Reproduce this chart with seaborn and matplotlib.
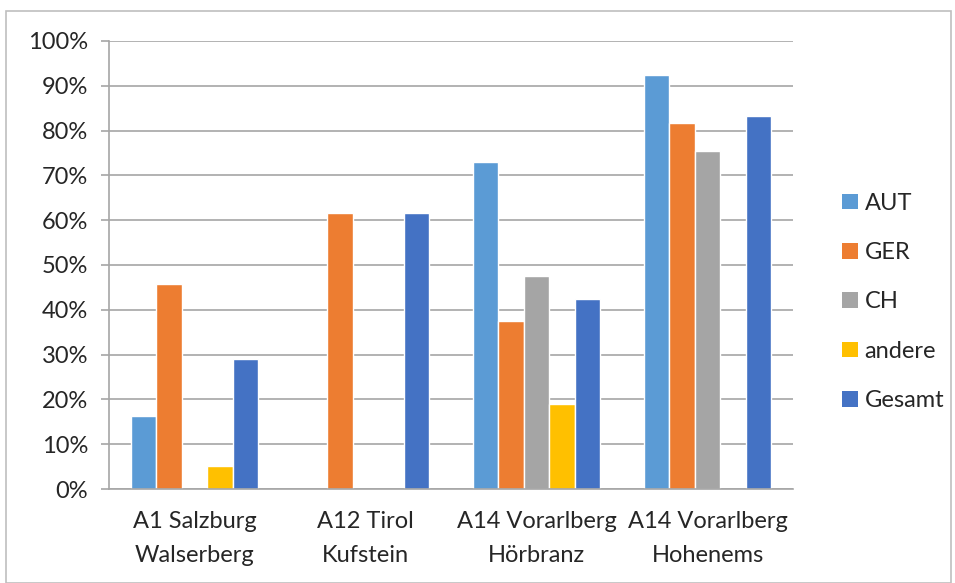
import numpy as np
import pandas as pd
import matplotlib
matplotlib.use("Agg")
import matplotlib.pyplot as plt
import seaborn as sns
from matplotlib.patches import Rectangle, Patch
from matplotlib.ticker import FixedLocator, PercentFormatter

categories = ["A1 Salzburg\nWalserberg", "A12 Tirol\nKufstein",
              "A14 Vorarlberg\nHörbranz", "A14 Vorarlberg\nHohenems"]
series = ["AUT", "GER", "CH", "andere", "Gesamt"]
aut = [16.4, np.nan, 73.1, 92.3]
ger = [45.7, 61.5, 37.4, 81.8]
ch = [np.nan, np.nan, 47.6, 75.4]
andere = [5.2, np.nan, 19.0, np.nan]
gesamt = [29.0, 61.5, 42.3, 83.2]
colors = ["#5B9BD5", "#ED7D31", "#A5A5A5", "#FFC000", "#4472C4"]
yticks = [0, 10, 20, 30, 40, 50, 60, 70, 80, 90, 100]

values = {"AUT": aut, "GER": ger, "CH": ch, "andere": andere, "Gesamt": gesamt}
rows = []
for s in series:
    for c, v in zip(categories, values[s]):
        rows.append({"Ort": c, "Gruppe": s, "Wert": v})
df = pd.DataFrame(rows)

sns.set_style("white")
plt.rcParams["font.family"] = ["Lato", "DejaVu Sans"]
FS = 17

fig = plt.figure(figsize=(9.55, 5.83), dpi=100)
ax = fig.add_axes([109/955, 1-489/583, (793-109)/955, (489-41)/583])

sns.barplot(data=df, x="Ort", y="Wert", hue="Gruppe", order=categories,
            hue_order=series, palette=colors, width=0.745, gap=0,
            saturation=1, ax=ax, legend=False, errorbar=None)

ax.set_xlim(-0.5, 3.5)
ax.set_ylim(0, 100)
ax.set_yticks(yticks)
ax.yaxis.set_major_formatter(PercentFormatter(decimals=0))
ax.grid(axis="y", color="#A6A6A6", linewidth=1.2)
ax.set_axisbelow(True)
ax.set_xlabel("")
ax.set_ylabel("")

for side in ["top", "right"]:
    ax.spines[side].set_visible(False)
for side in ["left", "bottom"]:
    ax.spines[side].set_color("#A6A6A6")
    ax.spines[side].set_linewidth(1.2)

ax.tick_params(axis="x", which="major", length=0, pad=16, labelsize=FS)
ax.xaxis.set_minor_locator(FixedLocator([-0.5, 0.5, 1.5, 2.5, 3.5]))
ax.tick_params(axis="x", which="minor", length=7, color="#A6A6A6", width=1.2,
               direction="out")
ax.tick_params(axis="y", length=6, color="#A6A6A6", width=1.2, labelsize=FS,
               pad=9, left=True)
for lab in ax.get_xticklabels():
    lab.set_linespacing(1.75)

handles = [Patch(facecolor=c, edgecolor="none") for c in colors]
fig.legend(handles, series, loc="center left", bbox_to_anchor=(821/955, 1-302/583),
           frameon=False, fontsize=FS, labelspacing=1.2, handlelength=0.65,
           handleheight=0.65, handletextpad=0.3)

fig.patches.append(Rectangle((6/955, 0), 945/955, 1-11/583, transform=fig.transFigure,
                             fill=False, edgecolor="#BFBFBF", linewidth=1.2))

fig.savefig("out.png", dpi=100)
